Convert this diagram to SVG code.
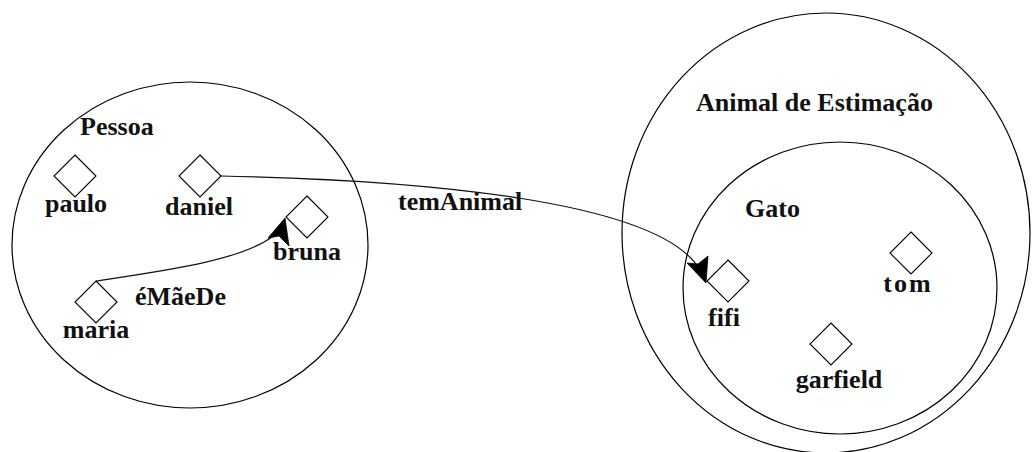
<svg xmlns="http://www.w3.org/2000/svg" width="1035" height="452" viewBox="0 0 1035 452">
<style>
.set{fill:none;stroke:#000;stroke-width:1.2}
.ind{fill:#fff;stroke:#000;stroke-width:1.1}
.lbl{font-family:"Liberation Serif","Times New Roman",serif;font-weight:bold;font-size:26px;fill:#111}
.mid{text-anchor:middle}
.edge{fill:none;stroke:#111;stroke-width:1.2}
.head{fill:#000;stroke:#000;stroke-width:0.8}
</style>
<rect width="1035" height="452" fill="#fff"/>
<g id="set-pessoa">
<ellipse class="set" cx="190" cy="245" rx="178" ry="163"/>
<text class="lbl" x="80" y="135">Pessoa</text>
</g>
<g id="set-animal">
<ellipse class="set" cx="826" cy="233" rx="204" ry="220"/>
<text class="lbl" x="696" y="111">Animal de Estimação</text>
</g>
<g id="set-gato">
<ellipse class="set" cx="840" cy="288" rx="157" ry="146"/>
<text class="lbl" x="745" y="217">Gato</text>
</g>
<g id="node-paulo">
<polygon class="ind" points="75,155 96,176 75,197 54,176"/>
<text class="lbl mid" x="76" y="212">paulo</text>
</g>
<g id="node-daniel">
<polygon class="ind" points="200,155 221,176 200,197 179,176"/>
<text class="lbl mid" x="199" y="215">daniel</text>
</g>
<g id="node-bruna">
<polygon class="ind" points="307,196 328,217 307,238 286,217"/>
<text class="lbl mid" x="307" y="260">bruna</text>
</g>
<g id="node-maria">
<polygon class="ind" points="96,281 117,302 96,323 75,302"/>
<text class="lbl mid" x="96" y="338">maria</text>
</g>
<g id="node-fifi">
<polygon class="ind" points="728,260 749,281 728,302 707,281"/>
<text class="lbl mid" x="724" y="326">fifi</text>
</g>
<g id="node-tom">
<polygon class="ind" points="911,232 932,253 911,274 890,253"/>
<text class="lbl mid" x="908" y="292" letter-spacing="2">tom</text>
</g>
<g id="node-garfield">
<polygon class="ind" points="831,323 852,344 831,365 810,344"/>
<text class="lbl mid" x="839" y="388">garfield</text>
</g>
<g id="connectors">
<g id="edge-eMaeDe">
<path class="edge" d="M96,281 C170,270 240,260 272,237"/>
<polygon class="head" points="285,218 268,238 279,236 289,246"/>
<text class="lbl" x="135" y="305">éMãeDe</text>
</g>
<g id="edge-temAnimal">
<path class="edge" d="M221,176 C420,180 660,200 700,270"/>
<polygon class="head" points="706,283 687,263 698,264 708,256"/>
<text class="lbl" x="398" y="210">temAnimal</text>
</g>
</g>
</svg>
